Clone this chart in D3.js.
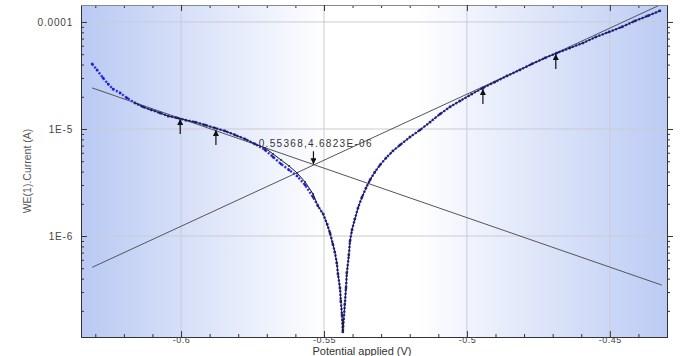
<!DOCTYPE html>
<html>
<head>
<meta charset="utf-8">
<script src="https://cdn.jsdelivr.net/npm/d3@7/dist/d3.min.js"></script>
<style>
  body { margin: 0; background: #fff; }
  svg { display: block; font-family: "Liberation Sans", Arial, sans-serif; }
</style>
</head>
<body>
<svg id="chart" width="680" height="356"></svg>
<script>
// measured polarisation data (blue dots)
const measuredV = [-0.6311, -0.6294, -0.6273, -0.6255, -0.6238, -0.6213, -0.6189, -0.6161, -0.6133, -0.6105,
  -0.6073, -0.6045, -0.6014, -0.5983, -0.5951, -0.5916, -0.5881, -0.5846, -0.5811, -0.5776,
  -0.5741, -0.5706, -0.5678, -0.5650, -0.5622, -0.5594, -0.5566, -0.5538, -0.5521, -0.5503,
  -0.5489, -0.5479, -0.5469, -0.5462, -0.5455, -0.5451, -0.5444, -0.5441, -0.5437, -0.5434,
  -0.5427, -0.5423, -0.5420, -0.5413, -0.5409, -0.5402, -0.5392, -0.5381, -0.5367, -0.5353,
  -0.5339, -0.5322, -0.5304, -0.5283, -0.5259, -0.5234, -0.5199, -0.5164, -0.5129, -0.5094,
  -0.5059, -0.5024, -0.4983, -0.4944, -0.4902, -0.4860, -0.4815, -0.4773, -0.4727, -0.4685,
  -0.4640, -0.4594, -0.4549, -0.4503, -0.4458, -0.4413, -0.4367, -0.4325];
const measuredI = [4.05e-5, 3.56e-5, 3.00e-5, 2.63e-5, 2.36e-5, 2.17e-5, 1.95e-5, 1.75e-5, 1.61e-5, 1.51e-5,
  1.41e-5, 1.32e-5, 1.27e-5, 1.21e-5, 1.16e-5, 1.09e-5, 1.02e-5, 9.58e-6, 8.79e-6, 8.06e-6,
  7.24e-6, 6.37e-6, 5.47e-6, 4.71e-6, 4.14e-6, 3.64e-6, 3.00e-6, 2.31e-6, 1.91e-6, 1.61e-6,
  1.29e-6, 1.07e-6, 8.42e-7, 7.09e-7, 5.59e-7, 4.41e-7, 3.27e-7, 2.47e-7, 1.83e-7, 1.27e-7,
  2.31e-7, 3.27e-7, 4.51e-7, 6.64e-7, 8.98e-7, 1.14e-6, 1.44e-6, 1.83e-6, 2.31e-6, 2.81e-6,
  3.34e-6, 3.96e-6, 4.61e-6, 5.36e-6, 6.23e-6, 7.09e-6, 8.42e-6, 9.79e-6, 1.16e-5, 1.38e-5,
  1.61e-5, 1.83e-5, 2.12e-5, 2.42e-5, 2.75e-5, 3.13e-5, 3.56e-5, 4.05e-5, 4.61e-5, 5.13e-5,
  5.71e-5, 6.36e-5, 7.24e-5, 8.06e-5, 8.98e-5, 1.02e-4, 1.14e-4, 1.27e-4];

// fitted curve (black line)
const fitV = [-0.6161, -0.6133, -0.6105, -0.6073, -0.6045, -0.6014, -0.5983, -0.5951, -0.5916, -0.5881,
  -0.5846, -0.5811, -0.5776, -0.5741, -0.5706, -0.5678, -0.5650, -0.5622, -0.5594, -0.5566,
  -0.5538, -0.5521, -0.5503, -0.5489, -0.5479, -0.5469, -0.5462, -0.5455, -0.5451, -0.5444,
  -0.5441, -0.5437, -0.5434, -0.5427, -0.5423, -0.5420, -0.5413, -0.5409, -0.5402, -0.5392,
  -0.5381, -0.5367, -0.5353, -0.5339, -0.5322, -0.5304, -0.5283, -0.5259, -0.5234, -0.5199,
  -0.5164, -0.5129, -0.5094, -0.5059, -0.5024, -0.4983, -0.4944, -0.4902, -0.4860, -0.4815,
  -0.4773, -0.4727, -0.4685, -0.4640, -0.4594, -0.4549, -0.4503, -0.4458, -0.4413, -0.4367, -0.4325];
const fitI = [1.75e-5, 1.61e-5, 1.51e-5, 1.41e-5, 1.32e-5, 1.27e-5, 1.21e-5, 1.16e-5, 1.09e-5, 1.02e-5,
  9.58e-6, 8.79e-6, 8.06e-6, 7.24e-6, 6.64e-6, 5.84e-6, 5.13e-6, 4.51e-6, 3.88e-6, 3.20e-6,
  2.47e-6, 1.91e-6, 1.61e-6, 1.29e-6, 1.07e-6, 8.42e-7, 7.09e-7, 5.59e-7, 4.41e-7, 3.27e-7,
  2.47e-7, 1.83e-7, 1.27e-7, 2.31e-7, 3.27e-7, 4.51e-7, 6.64e-7, 8.98e-7, 1.14e-6, 1.44e-6,
  1.83e-6, 2.31e-6, 2.81e-6, 3.34e-6, 3.96e-6, 4.61e-6, 5.36e-6, 6.23e-6, 7.09e-6, 8.42e-6,
  9.79e-6, 1.16e-5, 1.38e-5, 1.61e-5, 1.83e-5, 2.12e-5, 2.42e-5, 2.75e-5, 3.13e-5, 3.56e-5,
  4.05e-5, 4.61e-5, 5.13e-5, 5.71e-5, 6.36e-5, 7.24e-5, 8.06e-5, 8.98e-5, 1.02e-4, 1.14e-4, 1.27e-4];

// Tafel extrapolation lines (end points)
const cathodicV = [-0.6311, -0.4318];
const cathodicI = [2.42e-5, 3.48e-7];
const anodicV = [-0.6311, -0.4325];
const anodicI = [5.1e-7, 1.44e-4];

// selection arrows on the curve
const arrowV = [-0.6003, -0.5878, -0.4944, -0.4689];
const arrowI = [1.24e-5, 9.8e-6, 2.37e-5, 5.03e-5];

// corrosion point
const ecorr = -0.55368;
const icorr = 4.6823e-6;
const ecorrLabel = "-0.55368,4.6823E-06";

const xTicks = [-0.6, -0.55, -0.5, -0.45];
const xTickLabels = ["-0.6", "-0.55", "-0.5", "-0.45"];
const yTicks = [1e-4, 1e-5, 1e-6];
const yTickLabels = ["0.0001", "1E-5", "1E-6"];

const margin = { left: 81, right: 13, top: 5, bottom: 19 };
const width = 680, height = 356;
const x0 = margin.left, x1 = width - margin.right;
const y0 = margin.top, y1 = height - margin.bottom;

const x = d3.scaleLinear().domain([-0.635, -0.43]).range([x0, x1]);
const y = d3.scaleLog().domain([1.14e-7, 1.44e-4]).range([y1, y0]);

const svg = d3.select(`#chart`);
const defs = svg.append(`defs`);

const grad = defs.append(`linearGradient`).attr(`id`, `bg`)
  .attr(`x1`, `0%`).attr(`x2`, `100%`).attr(`y1`, `0%`).attr(`y2`, `0%`);
grad.append(`stop`).attr(`offset`, `0%`).attr(`stop-color`, `#b9c9f3`);
grad.append(`stop`).attr(`offset`, `42%`).attr(`stop-color`, `#ffffff`);
grad.append(`stop`).attr(`offset`, `57%`).attr(`stop-color`, `#ffffff`);
grad.append(`stop`).attr(`offset`, `100%`).attr(`stop-color`, `#bccbf4`);

defs.append(`clipPath`).attr(`id`, `clip`)
  .append(`rect`).attr(`x`, x0).attr(`y`, y0).attr(`width`, x1 - x0).attr(`height`, y1 - y0);

defs.append(`marker`).attr(`id`, `head`)
  .attr(`viewBox`, `0 0 10 10`).attr(`refX`, 10).attr(`refY`, 5)
  .attr(`markerWidth`, 6).attr(`markerHeight`, 6).attr(`markerUnits`, `userSpaceOnUse`)
  .attr(`orient`, `auto`)
  .append(`path`).attr(`d`, `M0,0 L10,5 L0,10 z`).attr(`fill`, `#111`);

svg.append(`rect`)
  .attr(`x`, x0).attr(`y`, y0).attr(`width`, x1 - x0).attr(`height`, y1 - y0)
  .attr(`fill`, `url(#bg)`);

// grid
const grid = svg.append(`g`).attr(`stroke`, `#c9ccd3`).attr(`stroke-width`, 1);
grid.selectAll(`.vx`).data(xTicks).enter().append(`line`)
  .attr(`x1`, d => x(d)).attr(`x2`, d => x(d)).attr(`y1`, y0).attr(`y2`, y1);
grid.selectAll(`.hy`).data(yTicks).enter().append(`line`)
  .attr(`x1`, x0).attr(`x2`, x1).attr(`y1`, d => y(d)).attr(`y2`, d => y(d));

const plot = svg.append(`g`).attr(`clip-path`, `url(#clip)`);

const line = d3.line().x(d => x(d[0])).y(d => y(d[1]));

plot.append(`path`).datum(d3.zip(cathodicV, cathodicI))
  .attr(`d`, line).attr(`fill`, `none`).attr(`stroke`, `#555`).attr(`stroke-width`, 1);
plot.append(`path`).datum(d3.zip(anodicV, anodicI))
  .attr(`d`, line).attr(`fill`, `none`).attr(`stroke`, `#555`).attr(`stroke-width`, 1);

const measured = d3.zip(measuredV, measuredI);
plot.append(`path`).datum(measured)
  .attr(`d`, line).attr(`fill`, `none`).attr(`stroke`, `#2c2ce0`)
  .attr(`stroke-width`, 2.4).attr(`stroke-dasharray`, `2,1.6`);
plot.selectAll(`.m`).data(measured).enter().append(`rect`)
  .attr(`x`, d => x(d[0]) - 1.2).attr(`y`, d => y(d[1]) - 1.2)
  .attr(`width`, 2.4).attr(`height`, 2.4).attr(`fill`, `#2222cc`);

const fit = d3.zip(fitV, fitI);
plot.append(`path`).datum(fit)
  .attr(`d`, line).attr(`fill`, `none`).attr(`stroke`, `#1a1a22`).attr(`stroke-width`, 1);
plot.selectAll(`.f`).data(fit).enter().append(`circle`)
  .attr(`cx`, d => x(d[0])).attr(`cy`, d => y(d[1])).attr(`r`, 1)
  .attr(`fill`, `#2b2b3a`);

// arrows pointing up to the selected points
svg.selectAll(`.arr`).data(d3.zip(arrowV, arrowI)).enter().append(`line`)
  .attr(`x1`, d => x(d[0])).attr(`x2`, d => x(d[0]))
  .attr(`y1`, d => y(d[1]) + 15).attr(`y2`, d => y(d[1]))
  .attr(`stroke`, `#111`).attr(`stroke-width`, 1.2).attr(`marker-end`, `url(#head)`);

// corrosion point arrow + label
svg.append(`line`)
  .attr(`x1`, x(ecorr)).attr(`x2`, x(ecorr))
  .attr(`y1`, y(icorr) - 13).attr(`y2`, y(icorr))
  .attr(`stroke`, `#111`).attr(`stroke-width`, 1.2).attr(`marker-end`, `url(#head)`);
svg.append(`text`)
  .attr(`x`, x(ecorr)).attr(`y`, y(icorr) - 17)
  .attr(`text-anchor`, `middle`).attr(`font-size`, `10px`).attr(`letter-spacing`, `1.3px`)
  .attr(`fill`, `#333`).text(ecorrLabel);

// axes
const minorY = y.ticks().filter(t => !yTicks.some(m => Math.abs(m - t) / m < 1e-6));
const minorX = x.ticks(20).filter(t => !xTicks.some(m => Math.abs(m - t) < 1e-9));

const axisStyle = g => {
  g.select(`.domain`).attr(`stroke`, `#333`);
  g.selectAll(`.tick line`).attr(`stroke`, `#333`);
  g.selectAll(`text`).attr(`fill`, `#444`).attr(`font-size`, `10px`)
    .attr(`font-family`, `"Liberation Sans", Arial, sans-serif`);
};

// left
svg.append(`g`).attr(`transform`, `translate(${x0},0)`)
  .call(d3.axisLeft(y).tickValues(minorY).tickSize(-3).tickSizeOuter(0).tickFormat(``)).call(axisStyle);
svg.append(`g`).attr(`transform`, `translate(${x0},0)`)
  .call(d3.axisLeft(y).tickValues(yTicks).tickSize(-6).tickSizeOuter(0).tickPadding(8)
    .tickFormat((d, i) => yTickLabels[i])).call(axisStyle)
  .selectAll(`text`).attr(`letter-spacing`, `0.8px`);
// right
svg.append(`g`).attr(`transform`, `translate(${x1},0)`)
  .call(d3.axisRight(y).tickValues(minorY).tickSize(3).tickSizeOuter(0).tickFormat(``)).call(axisStyle);
svg.append(`g`).attr(`transform`, `translate(${x1},0)`)
  .call(d3.axisRight(y).tickValues(yTicks).tickSize(6).tickSizeOuter(0).tickFormat(``)).call(axisStyle);
// bottom
svg.append(`g`).attr(`transform`, `translate(0,${y1})`)
  .call(d3.axisBottom(x).tickValues(minorX).tickSize(-3).tickSizeOuter(0).tickFormat(``)).call(axisStyle);
svg.append(`g`).attr(`transform`, `translate(0,${y1})`)
  .call(d3.axisBottom(x).tickValues(xTicks).tickSize(-6).tickSizeOuter(0).tickPadding(0)
    .tickFormat((d, i) => xTickLabels[i])).call(axisStyle)
  .selectAll(`text`).attr(`font-size`, `9px`).attr(`letter-spacing`, `0.5px`);
// top
svg.append(`g`).attr(`transform`, `translate(0,${y0})`)
  .call(d3.axisTop(x).tickValues(minorX).tickSize(-3).tickSizeOuter(0).tickFormat(``)).call(axisStyle)
  .select(`.domain`).attr(`stroke`, `#888`);
svg.append(`g`).attr(`transform`, `translate(0,${y0})`)
  .call(d3.axisTop(x).tickValues(xTicks).tickSize(-6).tickSizeOuter(0).tickFormat(``)).call(axisStyle)
  .select(`.domain`).attr(`stroke`, `#888`);

// axis titles
svg.append(`text`)
  .attr(`transform`, `translate(27,${(y0 + y1) / 2}) rotate(-90)`)
  .attr(`text-anchor`, `middle`).attr(`dy`, `0.35em`)
  .attr(`font-size`, `10.5px`).attr(`fill`, `#555`)
  .text(`WE(1).Current (A)`);
svg.append(`text`)
  .attr(`x`, 362).attr(`y`, 355)
  .attr(`text-anchor`, `middle`)
  .attr(`font-size`, `11px`).attr(`fill`, `#333`)
  .text(`Potential applied (V)`);
</script>
</body>
</html>
